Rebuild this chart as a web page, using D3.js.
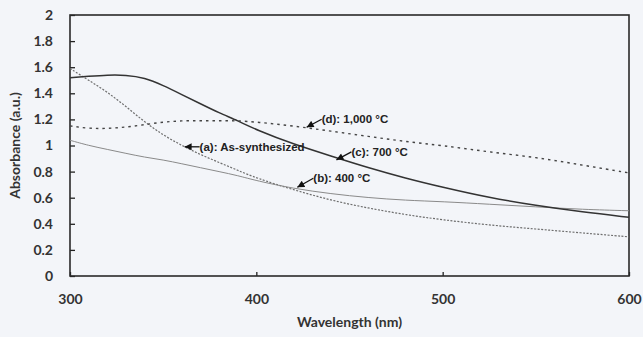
<!DOCTYPE html>
<html>
<head>
<meta charset="utf-8">
<script src="https://cdn.jsdelivr.net/npm/d3@7"></script>
<style>
  body { margin: 0; background: #f3f5f9; }
  svg { display: block; }
</style>
</head>
<body>
<div id="chart"></div>
<script>
// data
var wavelength = [300, 310, 320, 330, 340, 350, 360, 370, 380, 390, 400, 420, 440, 460, 480, 500, 525, 550, 575, 600]
var asSynth = [1.59, 1.50, 1.41, 1.30, 1.18, 1.08, 1.00, 0.93, 0.87, 0.81, 0.75, 0.66, 0.58, 0.52, 0.47, 0.43, 0.39, 0.36, 0.33, 0.30]
var c400 = [1.04, 1.00, 0.97, 0.94, 0.91, 0.89, 0.86, 0.83, 0.80, 0.77, 0.73, 0.67, 0.63, 0.60, 0.58, 0.57, 0.55, 0.53, 0.51, 0.50]
var c700 = [1.52, 1.53, 1.54, 1.54, 1.52, 1.46, 1.39, 1.32, 1.25, 1.19, 1.12, 1.01, 0.92, 0.83, 0.75, 0.68, 0.60, 0.54, 0.49, 0.45]
var c1000 = [1.15, 1.13, 1.13, 1.14, 1.16, 1.18, 1.19, 1.19, 1.19, 1.19, 1.18, 1.15, 1.11, 1.07, 1.03, 1.00, 0.95, 0.91, 0.85, 0.79]
var xTicks = [300, 400, 500, 600]
var yTicks = [0, 0.2, 0.4, 0.6, 0.8, 1, 1.2, 1.4, 1.6, 1.8, 2]

var series = [
  {name: "a", values: asSynth, color: "#6e6e6e", width: 1.2, dash: "2,1.5"},
  {name: "b", values: c400, color: "#8a8a8a", width: 1, dash: null},
  {name: "c", values: c700, color: "#333", width: 1.5, dash: null},
  {name: "d", values: c1000, color: "#444", width: 1.4, dash: "2.5,4"}
]
// label text, wavelength/value the arrow points at, label anchor offset
var notes = [
  {text: "(d): 1,000 °C", wl: 427, v: 1.14, dx: 15, dy: -8},
  {text: "(a): As-synthesized", wl: 361.5, v: 0.99, dx: 15, dy: 0},
  {text: "(c): 700 °C", wl: 443, v: 0.89, dx: 15, dy: -8},
  {text: "(b): 400 °C", wl: 422, v: 0.68, dx: 16, dy: -9}
]

var width = 643, height = 337
var margin = {top: 15, right: 14, bottom: 61, left: 70}
var w = width - margin.left - margin.right
var h = height - margin.top - margin.bottom

var svg = d3.select("#chart").append("svg")
    .attr("width", width)
    .attr("height", height)

svg.append("defs").append("marker")
    .attr("id", "head")
    .attr("viewBox", "0 0 10 10")
    .attr("refX", 10).attr("refY", 5)
    .attr("markerWidth", 8).attr("markerHeight", 7)
    .attr("markerUnits", "userSpaceOnUse")
    .attr("orient", "auto")
  .append("path")
    .attr("d", "M0,0L10,5L0,10Z")
    .attr("fill", "#111")

var g = svg.append("g").attr("transform", "translate(" + margin.left + "," + margin.top + ")")

var x = d3.scaleLinear().domain([300, 600]).range([0, w])
var y = d3.scaleLinear().domain([0, 2]).range([h, 0])

var tickFont = "'Lato', 'DejaVu Sans', sans-serif"

// x axis
var xa = g.append("g").attr("transform", "translate(0," + h + ")")
    .call(d3.axisBottom(x).tickValues(xTicks).tickSizeInner(-4).tickSizeOuter(0).tickPadding(18).tickFormat(d3.format("d")))
xa.select(".domain").remove()
xa.selectAll("line").attr("stroke", "#222").attr("stroke-width", 1.3)
xa.selectAll("text").style("font-family", tickFont).style("font-weight", "bold").style("font-size", "14px").attr("fill", "#333")

// y axis
var ya = g.append("g")
    .call(d3.axisLeft(y).tickValues(yTicks).tickSizeInner(-5).tickSizeOuter(0).tickPadding(17).tickFormat(function(d){ return String(+d.toFixed(1)) }))
ya.select(".domain").remove()
ya.selectAll("line").attr("stroke", "#222").attr("stroke-width", 1.3)
ya.selectAll("text").style("font-family", tickFont).style("font-weight", "bold").style("font-size", "14px").attr("fill", "#333")

// frame
g.append("rect")
    .attr("x", 0).attr("y", 0).attr("width", w).attr("height", h)
    .attr("fill", "none").attr("stroke", "#2a2a2a").attr("stroke-width", 1.6)

var line = d3.line()
    .x(function(d, i){ return x(wavelength[i]) })
    .y(function(d){ return y(d) })
    .curve(d3.curveBasis)

g.selectAll(".series").data(series).enter().append("path")
    .attr("class", "series")
    .attr("d", function(d){ return line(d.values) })
    .attr("fill", "none")
    .attr("stroke", function(d){ return d.color })
    .attr("stroke-width", function(d){ return d.width })
    .attr("stroke-dasharray", function(d){ return d.dash })

// annotations
var ng = g.selectAll(".note").data(notes).enter().append("g").attr("class", "note")
ng.append("line")
    .attr("x1", function(d){ return x(d.wl) + d.dx }).attr("y1", function(d){ return y(d.v) + d.dy })
    .attr("x2", function(d){ return x(d.wl) }).attr("y2", function(d){ return y(d.v) })
    .attr("stroke", "#111").attr("stroke-width", 1.3)
    .attr("marker-end", "url(#head)")
ng.append("text")
    .attr("x", function(d){ return x(d.wl) + d.dx }).attr("y", function(d){ return y(d.v) + d.dy })
    .attr("dy", "0.35em")
    .style("font-family", "'Liberation Sans', Arial, sans-serif")
    .style("font-weight", "bold").style("font-size", "11.5px")
    .attr("fill", "#222")
    .text(function(d){ return d.text })

// axis titles
svg.append("text")
    .attr("x", margin.left + w / 2).attr("y", 327)
    .attr("text-anchor", "middle")
    .style("font-family", tickFont).style("font-weight", "bold").style("font-size", "14px")
    .attr("fill", "#333")
    .text("Wavelength (nm)")
svg.append("text")
    .attr("transform", "translate(20," + (margin.top + h / 2) + ") rotate(-90)")
    .attr("text-anchor", "middle")
    .style("font-family", tickFont).style("font-weight", "bold").style("font-size", "14px")
    .attr("fill", "#333")
    .text("Absorbance (a.u.)")
</script>
</body>
</html>
